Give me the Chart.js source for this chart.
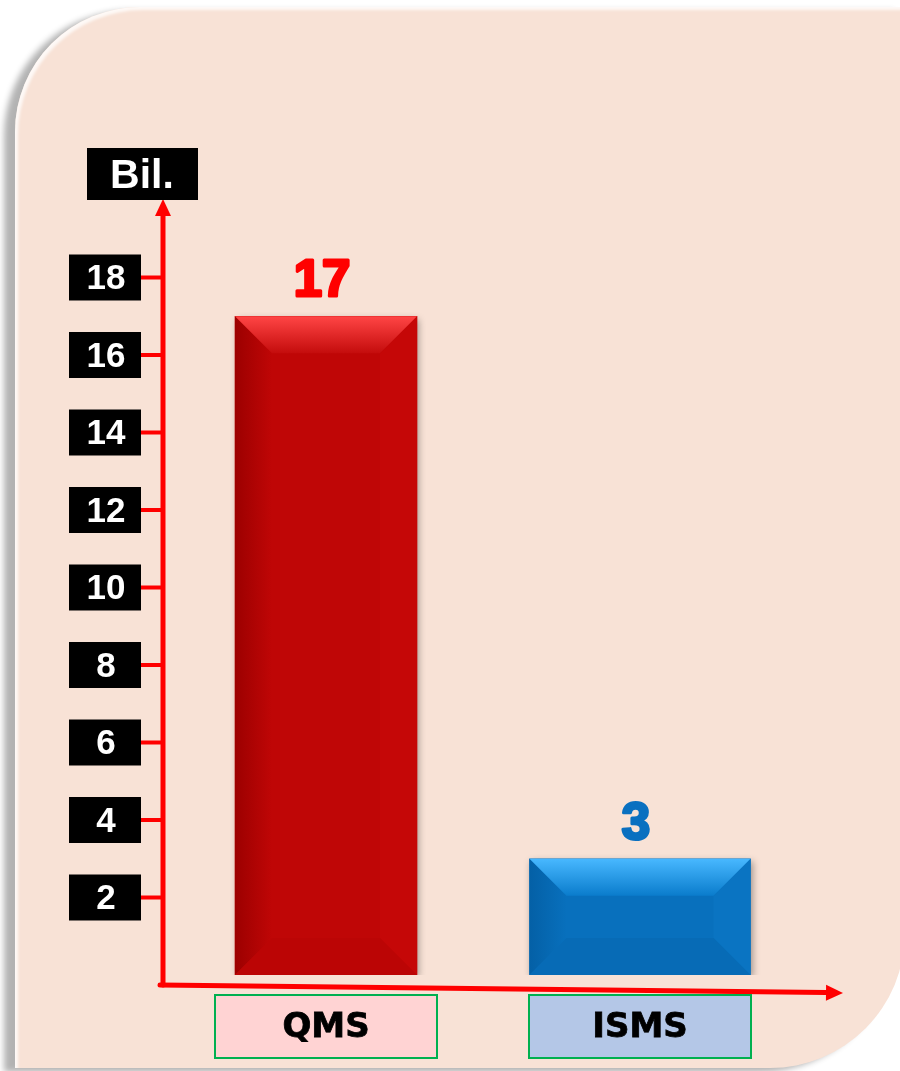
<!DOCTYPE html>
<html>
<head>
<meta charset="utf-8">
<script src="https://cdn.jsdelivr.net/npm/chart.js@4"></script>
<style>
    html, body { margin: 0; padding: 0; background: #ffffff; width: 900px; height: 1071px; overflow: hidden; }
    #panel {
        position: absolute; left: 15px; top: 7px; width: 890px; height: 1061px;
        background: #f8e2d6;
        border-radius: 125px 0 135px 0;
        box-shadow: -11px 4px 6px rgba(0, 0, 0, 0.3), inset 3px 3px 3px rgba(255, 255, 255, 0.8);
    }
    #chart { position: absolute; left: 0; top: 0; }
</style>
</head>
<body>
<div id="panel"></div>
<canvas id="chart" width="900" height="1071"></canvas>
<script>
const categories = ['QMS', 'ISMS'];
const counts = [17, 3];
const tickValues = [2, 4, 6, 8, 10, 12, 14, 16, 18];
const axisTitle = 'Bil.';

const barColors = ['#bf0606', '#0870bd'];
const valueColors = ['#ff0000', '#0a70c0'];
const labelFills = ['#ffd3d3', '#b4c7e7'];

// bevel colours per bar: [top light, top dark, left, right, bottom]
const bevels = [
    ['#ff4545', '#c40c0c', '#9c0000', '#c50707', '#bb0505'],
    ['#48b8ff', '#0a7ccc', '#0460a6', '#0a74c2', '#076bb6']
];

const RED = '#ff0000';

function bevelBar(ctx, bar, i) {
    const cols = bevels[i];
    const l = bar.x - bar.width / 2, r = bar.x + bar.width / 2;
    const t = bar.y, b = bar.base;
    const s = Math.min(37, (b - t) / 2);

    ctx.save();
    // left side
    let g = ctx.createLinearGradient(l, 0, l + s, 0);
    g.addColorStop(0, cols[2]);
    g.addColorStop(1, barColors[i]);
    ctx.fillStyle = g;
    ctx.beginPath();
    ctx.moveTo(l, t); ctx.lineTo(l + s, t + s); ctx.lineTo(l + s, b - s); ctx.lineTo(l, b);
    ctx.closePath(); ctx.fill();

    // right side
    ctx.fillStyle = cols[3];
    ctx.beginPath();
    ctx.moveTo(r, t); ctx.lineTo(r - s, t + s); ctx.lineTo(r - s, b - s); ctx.lineTo(r, b);
    ctx.closePath(); ctx.fill();

    // bottom
    ctx.fillStyle = cols[4];
    ctx.beginPath();
    ctx.moveTo(l, b); ctx.lineTo(l + s, b - s); ctx.lineTo(r - s, b - s); ctx.lineTo(r, b);
    ctx.closePath(); ctx.fill();

    // top
    g = ctx.createLinearGradient(0, t, 0, t + s);
    g.addColorStop(0, cols[0]);
    g.addColorStop(1, cols[1]);
    ctx.fillStyle = g;
    ctx.beginPath();
    ctx.moveTo(l, t); ctx.lineTo(r, t); ctx.lineTo(r - s, t + s); ctx.lineTo(l + s, t + s);
    ctx.closePath(); ctx.fill();
    ctx.restore();
}

function arrowHead(ctx, x, y, angle) {
    ctx.save();
    ctx.translate(x, y);
    ctx.rotate(angle);
    ctx.beginPath();
    ctx.moveTo(0, 0);
    ctx.lineTo(-17, -8);
    ctx.lineTo(-17, 8);
    ctx.closePath();
    ctx.fill();
    ctx.restore();
}

const decorPlugin = {
    id: 'decor',
    beforeDatasetsDraw(chart) {
        const ctx = chart.ctx;
        ctx.save();
        ctx.shadowColor = 'rgba(0, 0, 0, 0.35)';
        ctx.shadowBlur = 7;
        ctx.shadowOffsetX = 2;
        ctx.shadowOffsetY = 3;
    },
    afterDatasetsDraw(chart) {
        const ctx = chart.ctx;
        ctx.restore();

        const yScale = chart.scales.y;
        const xScale = chart.scales.x;

        // bevels + value labels
        chart.data.datasets.forEach((ds, di) => {
            const meta = chart.getDatasetMeta(di);
            meta.data.forEach((bar, i) => {
                if (ds.data[i] === null) return;
                bevelBar(ctx, bar, i);
                ctx.save();
                ctx.fillStyle = valueColors[i];
                ctx.strokeStyle = valueColors[i];
                ctx.lineWidth = 3;
                ctx.lineJoin = 'round';
                ctx.font = 'bold 51px "Liberation Sans", Arial, sans-serif';
                ctx.textAlign = 'center';
                ctx.textBaseline = 'alphabetic';
                ctx.fillText(String(ds.data[i]), bar.x - 4, bar.y - 20);
                ctx.strokeText(String(ds.data[i]), bar.x - 4, bar.y - 20);
                ctx.restore();
            });
        });

        const axisX = 163;
        const axisBottom = 985;

        ctx.save();
        ctx.strokeStyle = RED;
        ctx.fillStyle = RED;
        ctx.lineWidth = 5;
        ctx.lineCap = 'round';

        // y axis with arrow
        ctx.beginPath();
        ctx.moveTo(axisX, axisBottom);
        ctx.lineTo(axisX, 214);
        ctx.stroke();
        arrowHead(ctx, axisX, 199, -Math.PI / 2);

        // x axis with arrow (slightly sloped as in the original)
        const x0 = 160, y0 = 985, x1 = 826, y1 = 992.5;
        ctx.beginPath();
        ctx.moveTo(x0, y0);
        ctx.lineTo(x1, y1);
        ctx.stroke();
        arrowHead(ctx, 843, 993, Math.atan2(y1 - y0, x1 - x0));

        // ticks and label boxes
        ctx.lineCap = 'butt';
        ctx.lineWidth = 4;
        tickValues.forEach(v => {
            const py = yScale.getPixelForValue(v);
            ctx.strokeStyle = RED;
            ctx.beginPath();
            ctx.moveTo(140, py);
            ctx.lineTo(axisX, py);
            ctx.stroke();

            ctx.fillStyle = '#000000';
            ctx.fillRect(69, py - 23, 72, 46);
            ctx.fillStyle = '#ffffff';
            ctx.font = 'bold 35px "Liberation Sans", Arial, sans-serif';
            ctx.textAlign = 'center';
            ctx.textBaseline = 'middle';
            ctx.fillText(String(v), 106, py + 2);
        });

        // axis title box
        ctx.fillStyle = '#000000';
        ctx.fillRect(87, 148, 111, 52);
        ctx.fillStyle = '#ffffff';
        ctx.font = 'bold 41px "Liberation Sans", Arial, sans-serif';
        ctx.textAlign = 'center';
        ctx.textBaseline = 'middle';
        ctx.fillText(axisTitle, 142, 177);

        // category label boxes
        categories.forEach((c, i) => {
            const cx = xScale.getPixelForValue(i);
            ctx.fillStyle = labelFills[i];
            ctx.fillRect(cx - 111, 995, 222, 63);
            ctx.strokeStyle = '#00b050';
            ctx.lineWidth = 2;
            ctx.strokeRect(cx - 111, 995, 222, 63);
            ctx.fillStyle = '#000000';
            ctx.strokeStyle = '#000000';
            ctx.lineWidth = 0.8;
            ctx.font = 'bold 34px "DejaVu Sans", Verdana, sans-serif';
            ctx.textAlign = 'center';
            ctx.textBaseline = 'middle';
            ctx.fillText(c, cx, 1028);
            ctx.strokeText(c, cx, 1028);
        });
        ctx.restore();
    }
};

new Chart(document.getElementById('chart'), {
    type: 'bar',
    data: {
        labels: categories,
        datasets: [
            {
                data: [counts[0], null],
                backgroundColor: barColors[0],
                barThickness: 182,
                grouped: false
            },
            {
                data: [null, counts[1]],
                backgroundColor: barColors[1],
                barThickness: 221,
                grouped: false
            }
        ]
    },
    options: {
        responsive: false,
        animation: false,
        layout: {
            padding: { left: 169, right: 103, top: 200, bottom: 96 }
        },
        plugins: {
            legend: { display: false },
            tooltip: { enabled: false }
        },
        scales: {
            x: { display: false },
            y: { display: false, min: 0, max: 20 }
        }
    },
    plugins: [decorPlugin]
});
</script>
</body>
</html>
